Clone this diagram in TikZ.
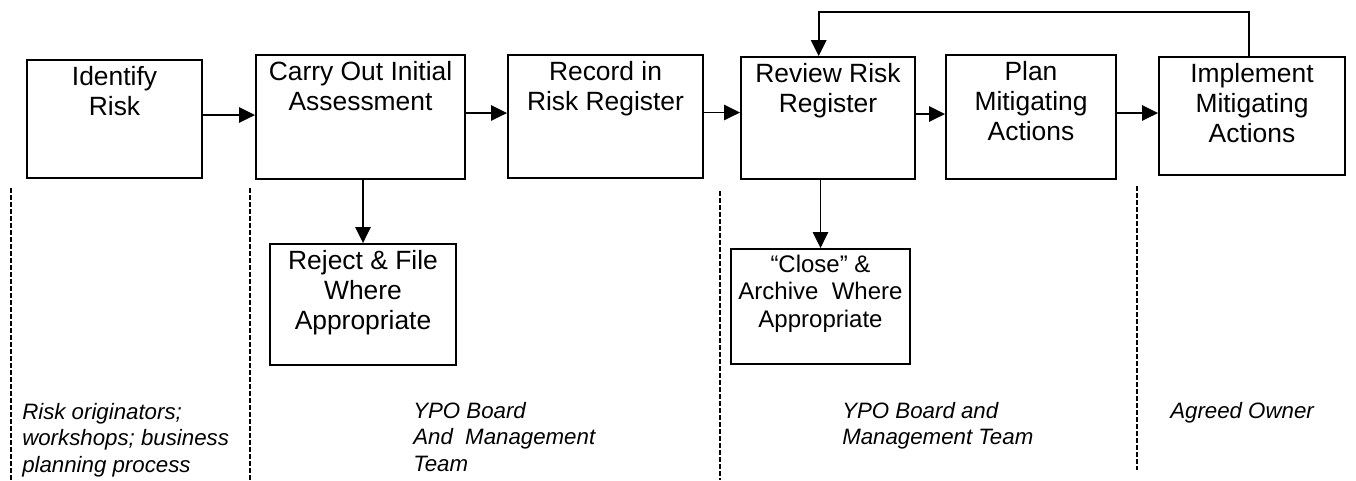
\documentclass[tikz,border=0pt]{standalone}
\usepackage{fontspec}
\setmainfont{Liberation Sans}
\usetikzlibrary{arrows.meta}

\tikzset{
    box/.style={draw, line width=1.4pt, inner sep=0pt},
    boxtext/.style={anchor=north, align=center, inner sep=0pt, yshift=-5pt,
        font=\fontsize{19.8pt}{22.5pt}\selectfont},
    arr/.style={line width=1.4pt, -{Triangle[length=12pt,width=11.5pt]}},
    note/.style={anchor=north west, align=left, inner sep=0pt,
        font=\fontsize{16.7pt}{19.9pt}\selectfont\itshape},
    sep/.style={line width=1.1pt, dash pattern=on 3.75pt off 1.5pt}
}

\begin{document}
\begin{tikzpicture}[x=0.75pt, y=-0.75pt]
    \useasboundingbox (0,0) rectangle (1356,480);

    % Top row of steps
    \node[box, minimum width=131.25pt, minimum height=88.5pt] (identify) at (114.5,119) {};
    \node[boxtext] (identify-t) at (identify.north) {Identify\\Risk};

    \node[box, minimum width=156.75pt, minimum height=93pt] (assess) at (360.5,117) {};
    \node[boxtext] (assess-t) at (assess.north) {Carry Out Initial\\Assessment};

    \node[box, minimum width=146.25pt, minimum height=92.25pt] (record) at (605.5,116.5) {};
    \node[boxtext] (record-t) at (record.north) {Record in\\Risk Register};

    \node[box, minimum width=130.5pt, minimum height=91.5pt] (review) at (828,118) {};
    \node[boxtext] (review-t) at (review.north) {Review Risk\\Register};

    \node[box, minimum width=127.5pt, minimum height=93pt] (plan) at (1031,117) {};
    \node[boxtext] (plan-t) at (plan.north) {Plan\\Mitigating\\Actions};

    \node[box, minimum width=139.5pt, minimum height=88.5pt] (implement) at (1252,116) {};
    \node[boxtext] (implement-t) at (implement.north) {Implement\\Mitigating\\Actions};

    % Side branches
    \node[box, minimum width=139.5pt, minimum height=90.75pt] (reject) at (363,304.5) {};
    \node[boxtext] (reject-t) at (reject.north) {Reject \& File\\Where\\Appropriate};

    \node[box, minimum width=134.25pt, minimum height=86.25pt] (close) at (820.5,306.5) {};
    \node[boxtext, font=\fontsize{18pt}{20.6pt}\selectfont] (close-t) at (close.north)
        {“Close” \&\\Archive\ \ Where\\Appropriate};

    % Flow along the top row
    \draw[arr] ([yshift=3pt]identify.east) -- ([yshift=3pt]identify.east -| assess.west);
    \draw[arr] ([yshift=3pt]assess.east) -- ([yshift=3pt]assess.east -| record.west);
    \draw[arr] ([yshift=3pt]record.east) -- ([yshift=3pt]record.east -| review.west);
    \draw[arr] ([yshift=3pt]review.east) -- ([yshift=3pt]review.east -| plan.west);
    \draw[arr] ([yshift=3pt]plan.east) -- ([yshift=3pt]plan.east -| implement.west);

    % Down to the branches
    \draw[arr] (reject.north |- assess.south) -- (reject.north);
    \draw[arr] (close.north |- review.south) -- (close.north);

    % Loop back to the review
    \draw[arr] ([xshift=-2pt]implement.north) -- ++(0,-44) -| ([xshift=-7pt]review.north);

    % Dashed separators
    \draw[sep] (11,188) -- (11,480);
    \draw[sep] (250,188) -- (250,480);
    \draw[sep] (720,191) -- (720,480);
    \draw[sep] (1137,186) -- (1137,470);

    % Who does it
    \node[note] (owner1) at (22,403) {Risk originators;\\workshops; business\\planning process};
    \node[note] (owner2) at (413,402) {YPO Board\\And\ \ Management\\Team};
    \node[note] (owner3) at (842,402) {YPO Board and\\Management Team};
    \node[note] (owner4) at (1170,402) {Agreed Owner};
\end{tikzpicture}
\end{document}
